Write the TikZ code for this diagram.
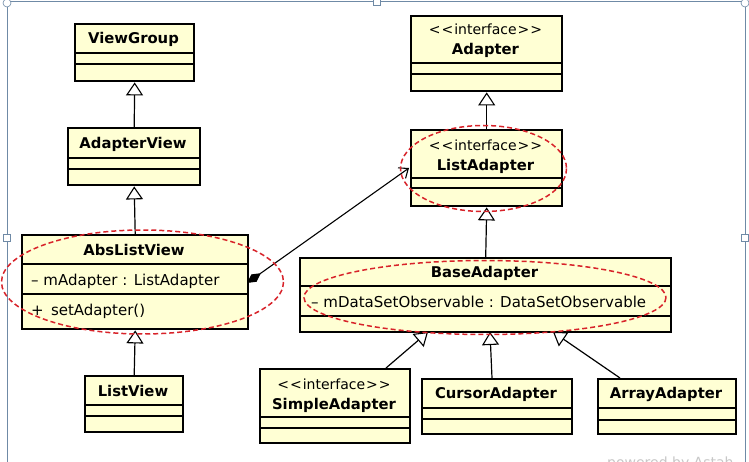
\documentclass[tikz,border=0pt]{standalone}
\usepackage{fontspec}
\setmainfont{DejaVu Sans}[Ligatures=NoCommon]
\usetikzlibrary{arrows.meta}
\definecolor{boxfill}{HTML}{FFFFD4}
\definecolor{frameblue}{HTML}{6F8AA6}
\definecolor{ellred}{HTML}{D8232A}
\tikzset{
  umlbox/.style={draw=black, line width=2.4pt, fill=boxfill, inner sep=0pt, anchor=north west},
  divider/.style={line width=1.1pt},
  nametext/.style={font=\bfseries\fontsize{14.8}{17}\selectfont, inner sep=0pt},
  stereo/.style={font=\fontsize{14}{16}\selectfont, inner sep=0pt},
  membertext/.style={font=\fontsize{15}{17}\selectfont, inner sep=0pt, anchor=west},
  inherit/.style={line width=1.2pt, -{Triangle[open, length=13pt, width=17pt, fill=white, line width=1.1pt]}},
  assoc/.style={line width=1.1pt, {Diamond[length=17pt, width=9pt]}-{Straight Barb[length=8pt, width=13pt]}},
  hilite/.style={draw=ellred, line width=1.5pt, dash pattern=on 5pt off 3pt},
  framestyle/.style={draw=frameblue, line width=0.8pt},
  handle/.style={draw=frameblue, fill=white, line width=0.6pt}
}
\newcommand{\stereotxt}{<\kern1pt<\kern1pt interface\kern1pt>\kern1pt>}
\newcommand{\umlcls}[7]{%
  % name, x1, y1, x2, y2, d1, d2
  \node[umlbox, minimum width=#4pt-#2pt, minimum height=#5pt-#3pt] (#1) at (#2,#3) {};
  \draw[divider] (#2,#6) -- (#4,#6);
  \draw[divider] (#2,#7) -- (#4,#7);
}
\begin{document}
\begin{tikzpicture}[x=1pt,y=-1pt]
\useasboundingbox (0,0) rectangle (749,462);
\clip (0,0) rectangle (749,462);
\fill[white] (0,0) rectangle (749,462);

% frame
\draw[framestyle] (7,470) -- (7,1.5) -- (745,1.5) -- (745,470);
\draw[handle] (7,3) circle (4);
\draw[handle] (745,3) circle (4);
\draw[handle] (373.5,-2) rectangle (380.5,5);
\draw[handle] (3.5,234) rectangle (10.5,241);
\draw[handle] (741.5,234) rectangle (748.5,241);

% classes
\umlcls{viewgroup}{74}{23}{193}{80}{53}{64}
\node[nametext] at (133.5,39) {ViewGroup};

\umlcls{adapterview}{67}{127}{199}{184}{158}{169}
\node[nametext] at (133,144) {AdapterView};

\umlcls{abslistview}{21}{234}{247}{328}{264}{294}
\node[nametext] at (134,250) {AbsListView};
\node[membertext] at (31,281) {– mAdapter : ListAdapter};
\node[membertext] at (31,311) {+\, setAdapter()};

\umlcls{listview}{84}{375}{182}{431}{405}{416}
\node[nametext] at (133,391) {ListView};

\umlcls{adapter}{410}{15}{561}{90}{63}{74}
\node[stereo] at (485.5,29) {\stereotxt};
\node[nametext] at (485.5,50) {Adapter};

\umlcls{listadapter}{410}{129}{561}{205}{178}{188}
\node[stereo] at (485.5,145) {\stereotxt};
\node[nametext] at (485.5,166) {ListAdapter};

\umlcls{baseadapter}{299}{257}{670}{331}{286}{316}
\node[nametext] at (484.5,273) {BaseAdapter};
\node[membertext] at (311,302) {– mDataSetObservable : DataSetObservable};

\umlcls{simpleadapter}{259}{368}{409}{442}{417}{428}
\node[stereo] at (334,384) {\stereotxt};
\node[nametext] at (334,405) {SimpleAdapter};

\umlcls{cursoradapter}{421}{378}{571}{433}{408}{419}
\node[nametext] at (496,394) {CursorAdapter};

\umlcls{arrayadapter}{597}{378}{735}{433}{408}{420}
\node[nametext] at (666,394) {ArrayAdapter};

% inheritance
\draw[inherit] (adapterview.north) -- (viewgroup.south);
\draw[inherit] (abslistview.north) -- (adapterview.south);
\draw[inherit] (listview.north) -- (abslistview.south);
\draw[inherit] (listadapter.north) -- (adapter.south);
\draw[inherit] (baseadapter.north) -- (listadapter.south);
\coordinate (sa) at (386,368);
\coordinate (sat) at (428,332);
\draw[inherit] (sa) -- (sat);
\coordinate (ca) at (492,378);
\coordinate (cat) at (490,332);
\draw[inherit] (ca) -- (cat);
\coordinate (aa) at (620,378);
\coordinate (aat) at (553,332);
\draw[inherit] (aa) -- (aat);

% association (composition)
\coordinate (assocA) at (247,283);
\coordinate (assocB) at (409,168);
\draw[assoc] (assocA) -- (assocB);

% highlight ellipses
\draw[hilite] (142.5,282) ellipse (141 and 52);
\draw[hilite] (483.5,168.5) ellipse (83 and 43);
\draw[hilite] (485,297.5) ellipse (181 and 37);

% watermark
\node[font=\fontsize{14}{16}\selectfont, text=black!22, anchor=base west, inner sep=0pt] at (607,467) {powered by Astah};
\end{tikzpicture}
\end{document}
